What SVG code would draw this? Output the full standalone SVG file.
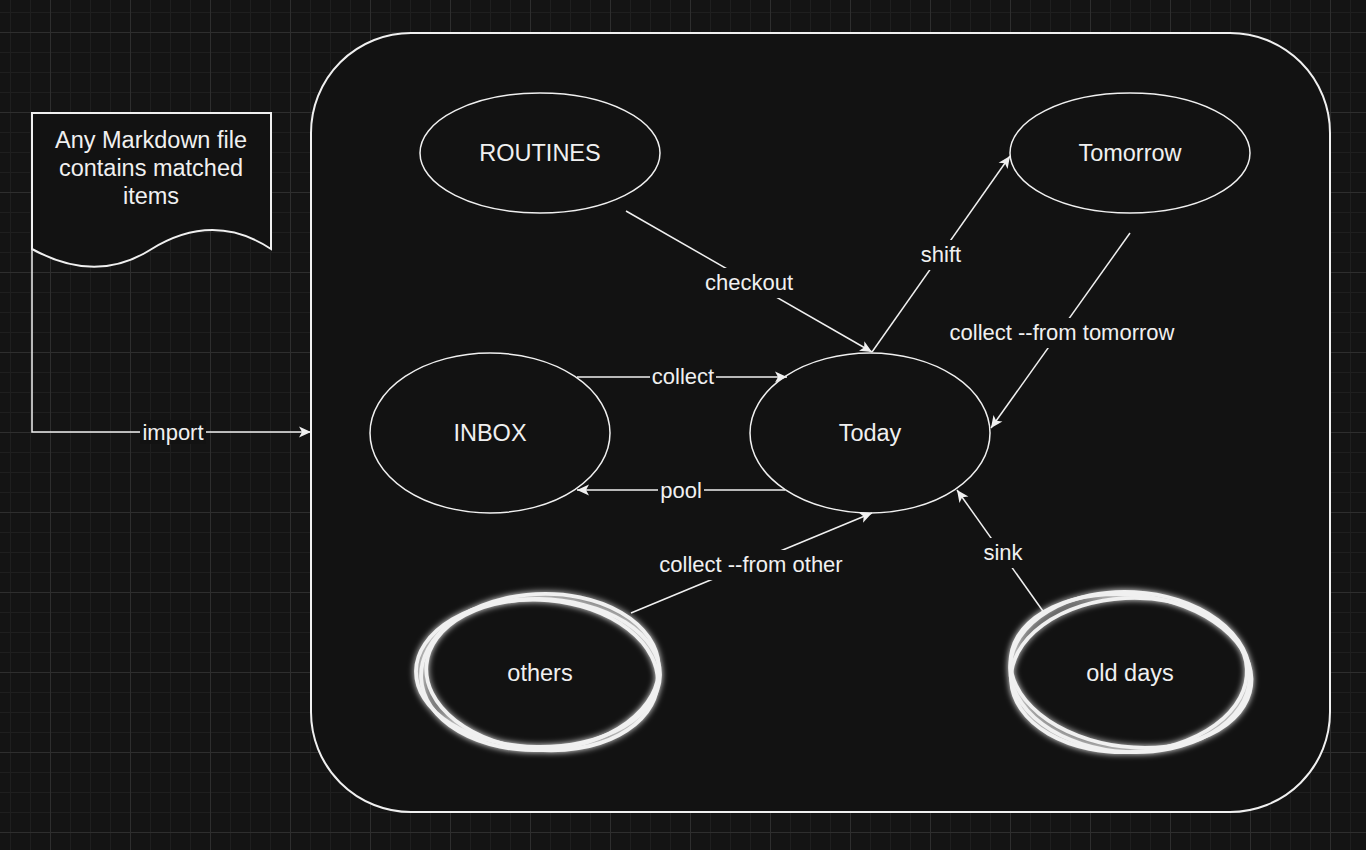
<svg xmlns="http://www.w3.org/2000/svg" width="1366" height="850" viewBox="0 0 1366 850">
<defs>
<pattern id="minor" patternUnits="userSpaceOnUse" x="10" y="12" width="20" height="20">
<path d="M0 0.5 H20 M0.5 0 V20" stroke="#1f1f1f" stroke-width="1" fill="none"/>
</pattern>
<pattern id="major" patternUnits="userSpaceOnUse" x="50" y="32" width="80" height="80">
<path d="M0 0.5 H80 M0.5 0 V80" stroke="#2e2e2e" stroke-width="1" fill="none"/>
</pattern>
<marker id="arr" viewBox="0 0 12 12" refX="12" refY="6" markerWidth="12" markerHeight="12" markerUnits="userSpaceOnUse" orient="auto">
<path d="M12,6 L0,0.5 L3,6 L0,11.5 z" fill="#f0f0f0"/>
</marker>
<filter id="glow" x="-20%" y="-20%" width="140%" height="140%">
<feGaussianBlur in="SourceGraphic" stdDeviation="3" result="b"/>
<feMerge><feMergeNode in="b"/><feMergeNode in="SourceGraphic"/></feMerge>
</filter>
<style>
.node{fill:#121212;stroke:#f0f0f0;stroke-width:1.5}
.lbl{font-family:"Liberation Sans",Arial,sans-serif;font-size:23.5px;fill:#f0f0f0;text-anchor:middle}
.elbl{font-family:"Liberation Sans",Arial,sans-serif;font-size:22px;fill:#f0f0f0;text-anchor:middle}
.edge{stroke:#f0f0f0;stroke-width:1.5;fill:none;marker-end:url(#arr)}
.lbg{fill:#121212}
.sk{fill:none;stroke:#f0f0f0;stroke-width:3.8}
</style>
</defs>
<rect width="1366" height="850" fill="#141414"/>
<rect width="1366" height="850" fill="url(#minor)"/>
<rect width="1366" height="850" fill="url(#major)"/>

<g id="container">
<rect x="311" y="33" width="1019" height="779" rx="100" ry="100" fill="#121212" stroke="#f0f0f0" stroke-width="2"/>
</g>

<g id="document">
<path d="M32,113 H271 V249 C230,222 190,225 150,250 C110,275 70,270 32,249 Z" fill="#121212" stroke="#f0f0f0" stroke-width="2"/>
<text class="lbl" x="151" y="148">Any Markdown file</text>
<text class="lbl" x="151" y="176">contains matched</text>
<text class="lbl" x="151" y="204">items</text>
</g>

<g id="routines">
<ellipse class="node" cx="540" cy="153" rx="120" ry="60"/>
<text class="lbl" x="540" y="161">ROUTINES</text>
</g>
<g id="tomorrow">
<ellipse class="node" cx="1130" cy="153" rx="120" ry="60"/>
<text class="lbl" x="1130" y="161">Tomorrow</text>
</g>
<g id="inbox">
<ellipse class="node" cx="490" cy="433" rx="120" ry="80"/>
<text class="lbl" x="490" y="441">INBOX</text>
</g>
<g id="today">
<ellipse class="node" cx="870" cy="433" rx="120" ry="80"/>
<text class="lbl" x="870" y="441">Today</text>
</g>
<g id="others">
<g filter="url(#glow)">
<ellipse class="sk" cx="540" cy="672" rx="119" ry="78" transform="rotate(-3 540 672)"/>
<ellipse class="sk" cx="542" cy="675" rx="116" ry="75" transform="rotate(5 542 675)"/>
<ellipse class="sk" cx="538" cy="673" rx="122" ry="74" transform="rotate(1 538 673)"/>
</g>
<text class="lbl" x="540" y="681">others</text>
</g>
<g id="olddays">
<g filter="url(#glow)">
<ellipse class="sk" cx="1130" cy="672" rx="120" ry="80" transform="rotate(3 1130 672)"/>
<ellipse class="sk" cx="1129" cy="675" rx="118" ry="77" transform="rotate(-3 1129 675)"/>
<ellipse class="sk" cx="1131" cy="671" rx="121" ry="76" transform="rotate(7 1131 671)"/>
</g>
<text class="lbl" x="1130" y="681">old days</text>
</g>

<g id="connectors">
<path class="edge" d="M32,249 V432 H311"/>
<path class="edge" d="M626,211 L872,352"/>
<path class="edge" d="M872,352 L1010,156"/>
<path class="edge" d="M1130,233 L991,428"/>
<path class="edge" d="M577,377 H787"/>
<path class="edge" d="M785,490 H577"/>
<path class="edge" d="M631,613 L872,513"/>
<path class="edge" d="M1045,614 L957,490"/>

<rect class="lbg" x="140" y="420" width="66" height="24" fill="#141414"/>
<text class="elbl" x="173" y="440">import</text>
<rect class="lbg" x="703" y="268" width="92" height="30"/>
<text class="elbl" x="749" y="290">checkout</text>
<rect class="lbg" x="918" y="240" width="46" height="30"/>
<text class="elbl" x="941" y="262">shift</text>
<rect class="lbg" x="946" y="318" width="232" height="30"/>
<text class="elbl" x="1062" y="340">collect --from tomorrow</text>
<rect class="lbg" x="650" y="365" width="66" height="24"/>
<text class="elbl" x="683" y="384">collect</text>
<rect class="lbg" x="658" y="479" width="46" height="24"/>
<text class="elbl" x="681" y="498">pool</text>
<rect class="lbg" x="655" y="550" width="192" height="30"/>
<text class="elbl" x="751" y="572">collect --from other</text>
<rect class="lbg" x="980" y="538" width="46" height="30"/>
<text class="elbl" x="1003" y="560">sink</text>
</g>
</svg>
